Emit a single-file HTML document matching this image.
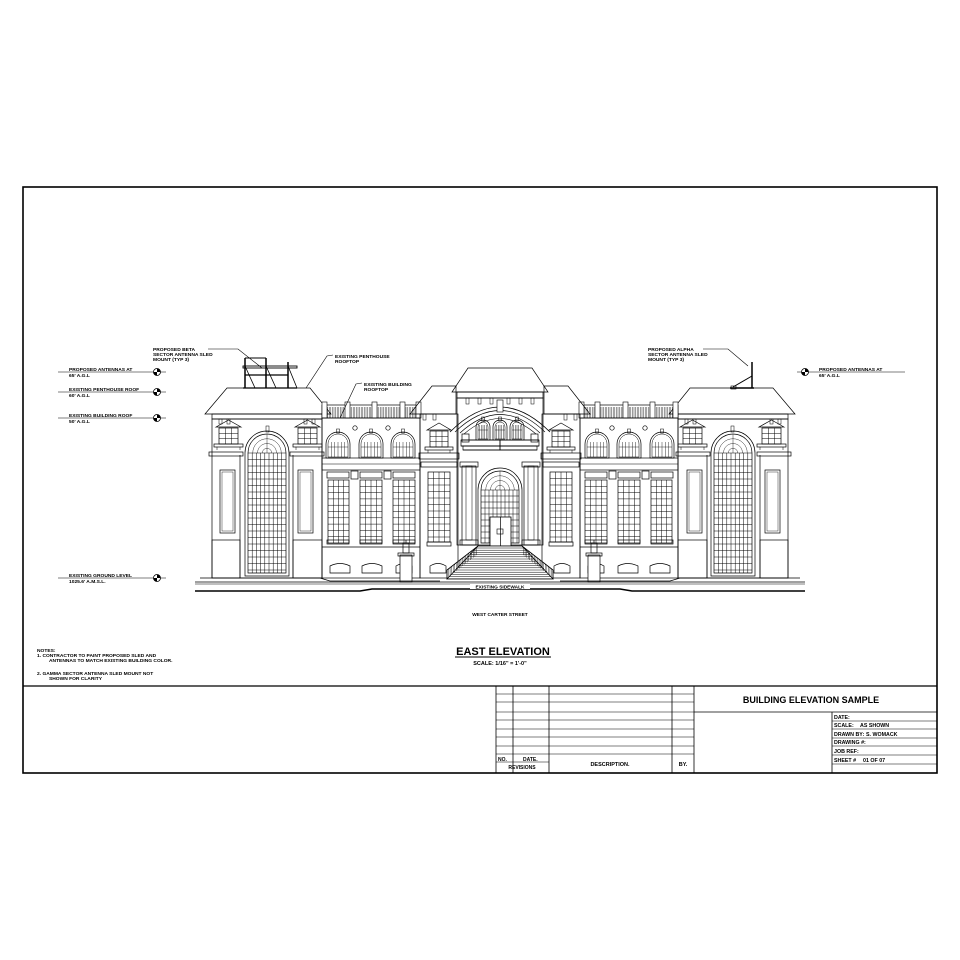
<!DOCTYPE html>
<html><head><meta charset="utf-8"><style>
html,body{margin:0;padding:0;background:#fff;width:960px;height:960px;overflow:hidden}
svg{display:block}
text{font-family:"Liberation Sans",sans-serif;font-weight:bold;fill:#000}
</style></head><body>
<svg id="s" width="960" height="960" viewBox="0 0 960 960" xmlns="http://www.w3.org/2000/svg">
<rect x="23" y="187" width="914" height="586" fill="none" stroke="#000" stroke-width="1.6"/>
<g id="dyn" fill="none" stroke="#000" stroke-width="0.7"></g>
<g id="tx"></g>
</svg>
<script>
var S=[];
function L(x1,y1,x2,y2,w){S.push('<line x1="'+x1+'" y1="'+y1+'" x2="'+x2+'" y2="'+y2+'"'+(w?' stroke-width="'+w+'"':'')+'/>');}
function R(x,y,w,h,sw,f){S.push('<rect x="'+x+'" y="'+y+'" width="'+w+'" height="'+h+'"'+(sw?' stroke-width="'+sw+'"':'')+(f?' fill="'+f+'"':'')+'/>');}
function P(d,sw,f){S.push('<path d="'+d+'"'+(sw?' stroke-width="'+sw+'"':'')+(f?' fill="'+f+'"':'')+'/>');}
function grid(x,y,w,h,dx,dy){R(x,y,w,h);for(var i=x+dx;i<x+w-0.5;i+=dx)L(i,y,i,y+h,0.5);for(var j=y+dy;j<y+h-0.5;j+=dy)L(x,j,x+w,j,0.5);}
function archWin(x1,x2,top,bot,dx,dy){var r=(x2-x1)/2,cy=top+r;
 P('M'+x1+','+bot+'V'+cy+'A'+r+','+r+' 0 0 1 '+x2+','+cy+'V'+bot+'Z');
 var a=x1+3,b=x2-3,r2=(b-a)/2;
 P('M'+a+','+(bot-3)+'V'+cy+'A'+r2+','+r2+' 0 0 1 '+b+','+cy+'V'+(bot-3)+'Z');
 for(var i=a+dx;i<b-0.5;i+=dx)L(i,cy,i,bot-3,0.5);
 for(var j=cy+dy;j<bot-3;j+=dy)L(a,j,b,j,0.5);
 L(a,cy,b,cy,0.5);
 for(var k=1;k<=3;k++){var rr=r2*k/4;P('M'+(x1+r-rr)+','+cy+'A'+rr+','+rr+' 0 0 1 '+(x1+r+rr)+','+cy,0.4);}
 L(x1+r,top+3,x1+r,cy,0.4);}
function smallArch(cx,top,bot,w){var r=w/2,cy=top+r;P('M'+(cx-r)+','+bot+'V'+cy+'A'+r+','+r+' 0 0 1 '+(cx+r)+','+cy+'V'+bot+'Z');
 var r2=r-2;P('M'+(cx-r2)+','+(bot-1)+'V'+cy+'A'+r2+','+r2+' 0 0 1 '+(cx+r2)+','+cy+'V'+(bot-1)+'Z',0.5);
 L(cx-r2,cy+3,cx+r2,cy+3,0.4);for(var i=-2;i<=2;i++)L(cx+i*r2/3,cy-2,cx+i*r2/3,bot-1,0.4);R(cx-1.5,top-3,3,4,0.5);}
function pedWin(x,y,w){P('M'+(x-3)+','+(y+7)+'L'+(x+w/2)+','+y+'L'+(x+w+3)+','+(y+7)+'Z');grid(x,y+8,w,16,w/3,5.3);R(x-5,y+24,w+10,3);L(x-2,y+27,x-2,y+30,0.5);L(x+w+2,y+27,x+w+2,y+30,0.5);}
function segArch(cx,y,w){P('M'+(cx-w/2)+','+(y+10)+'V'+(y+3)+'Q'+cx+','+(y-2)+' '+(cx+w/2)+','+(y+3)+'V'+(y+10)+'Z');}
P('M452,392L468,368L532,368L548,392Z');
R(457,392,86,6);
R(457,398,86,147);
S.push('<g id="half">');
P('M205,414L227,388L310,388L331,414Z');
R(212,414,110,5);
[219,227,304,312].forEach(function(x){R(x,419,3,5,0.5)});
R(212,419,110,159);
L(240,455,240,578);L(293,455,293,578);
R(209,452,34,4);R(290,452,34,4);
pedWin(219,420,19);pedWin(298,420,19);
R(220,470,15,63);R(298,470,15,63);
R(222,472,11,59,0.4);R(300,472,11,59,0.4);
R(212,540,28,38);R(293,540,29,38);
archWin(245,289,431,576,4.2,6.5);
R(266,426,3,6,0.5);
R(322,405,98,13);
for(var x=326;x<418;x+=1.6)L(x,407,x,418,0.4);
[322,345,372,400,416].forEach(function(x){R(x,402,5,16,0.6,'#fff')});
R(322,418,98,160);
[338,371,403].forEach(function(c){smallArch(c,432,458,24)});
[355,388].forEach(function(c){S.push('<circle cx="'+c+'" cy="428" r="2.2"/>')});
R(322,458,98,12);L(322,464,420,464,0.5);
R(327,472,22,6);R(360,472,22,6);R(393,472,22,6);R(351,471,7,8);R(384,471,7,8);
grid(328,480,21,63,5.25,6.3);grid(360,480,22,63,5.5,6.3);grid(393,480,22,63,5.5,6.3);
R(327,540,22,4);R(360,540,22,4);R(393,540,22,4);
L(322,547,420,547);
segArch(340,563,20);segArch(372,563,20);segArch(404,563,16);
R(400,555,12,27,0.7,'#fff');R(398,553,16,3);R(403,543,6,10);L(406,540,406,543);
P('M410,414L432,386L456,386L456,414Z');
R(420,414,38,164);
R(423,414,3,6,0.5);R(433,414,3,6,0.5);
pedWin(430,423,18);
R(419,453,40,6);R(421,462,36,5);
grid(428,472,22,70,5.5,6.5);R(427,542,24,4);
segArch(438,563,16);
[466,478,490].forEach(function(x){R(x,398,3,6,0.5)});
R(461,440,39,6);R(463,446,37,4);
R(462,466,14,79);R(460,462,18,5);R(460,540,18,5);
R(466,466,6,74,0.5);
S.push('</g>');
S.push('<use href="#half" transform="translate(1000,0) scale(-1,1)"/>');
L(461,440,539,440);L(461,446,539,446);L(463,450,537,450);
P('M450,432Q500,382 550,432',0.8);P('M455,432Q500,389 545,432',0.6);P('M460,433Q500,396 540,433',0.6);P('M464,434Q500,403 536,434',0.6);
R(497,400,6,12,0.6,'#fff');
[483,500,517].forEach(function(c){smallArch(c,420,440,14)});
R(462,434,7,8);R(531,434,7,8);
archWin(478,522,468,546,4,6);
R(490,517,21,29,0.8,'#fff');L(500.5,517,500.5,546);R(497,529,6,5,0.6);
P('M447,579L553,579L522,546L478,546Z',0.8,'#fff');
for(var y=548;y<579;y+=2.2){var f=(y-546)/33;L(478-31*f,y,522+31*f,y,0.5);}
P('M447,579L447,570L478,546',0.8);P('M553,579L553,570L522,546',0.8);
for(var q=0;q<1;q+=0.05){var xx=447+31*q,yy=570-24*q;L(xx,yy,xx,yy+8,0.4);xx=553-31*q;L(xx,yy,xx,yy+8,0.4);}
P('M200,578L320,578L330,581L440,581',0.7);P('M560,581L670,581L680,578L800,578',0.7);
L(195,582,805,582,0.8);L(195,584,805,584,0.6);
P('M195,591L360,591L372,589L620,589L632,591L805,591',1.4);
R(470,584,60,5,0,'#fff');
S[S.length-1]=S[S.length-1].replace('<rect','<rect stroke="none"');
R(243,366,54,2,0.9);L(245,358,245,388,1.5);L(266,358,266,388,1.5);L(288,362,288,388,1.5);L(245,375,288,375,1.2);L(243,388,297,388,1.2);
L(245,366,255,388,0.8);L(266,366,276,388,0.8);L(288,366,297,388,0.8);L(245,358,266,358,1);
L(752,362,752,388,1.5);L(730,388,754,388,1.4);L(733,387,752,376,1);R(731,386,5,3,0.6);
P('M208,349L238,349L262,368',0.6);P('M333,355L327,356L306,388',0.6);P('M362,383L356,384L340,418',0.6);P('M703,349L728,349L748,366',0.6);
function lev(x1,x2,y,cx){L(x1,y,x2,y,0.6);S.push('<circle cx="'+cx+'" cy="'+y+'" r="3.5" fill="#fff" stroke-width="0.8"/>');S.push('<path d="M'+cx+','+(y-3.5)+'A3.5,3.5 0 0 1 '+(cx+3.5)+','+y+'L'+cx+','+y+'Z" fill="#000" stroke="none"/>');S.push('<path d="M'+cx+','+(y+3.5)+'A3.5,3.5 0 0 1 '+(cx-3.5)+','+y+'L'+cx+','+y+'Z" fill="#000" stroke="none"/>');}
lev(58,166,372,157);lev(58,166,392,157);lev(58,166,418,157);lev(58,166,578,157);lev(797,905,372,805);
L(23,686,937,686,1.2);
[496,513,549,672,694].forEach(function(x){L(x,686,x,773,0.8)});
L(832,712,832,773,0.8);
[694,702,712,720,729,737,746,754].forEach(function(y){L(496,y,694,y,0.6)});
L(496,762,549,762,0.6);
L(694,712,937,712,0.8);
[721,729,738,746,755,764].forEach(function(y){L(832,y,937,y,0.6)});
L(455,657,551,657,0.9);
document.getElementById('dyn').innerHTML=S.join('');
var T=[];
function t(x,y,s,sz,a){T.push('<text x="'+x+'" y="'+y+'" font-size="'+(sz||4.9)+'"'+(a?' text-anchor="'+a+'"':'')+'>'+s+'</text>');}
t(153,351,'PROPOSED BETA');t(153,356,'SECTOR ANTENNA SLED');t(153,361,'MOUNT (TYP 3)');
t(335,358,'EXISTING PENTHOUSE');t(335,363,'ROOFTOP');
t(364,386,'EXISTING BUILDING');t(364,391,'ROOFTOP');
t(648,351,'PROPOSED ALPHA');t(648,356,'SECTOR ANTENNA SLED');t(648,361,'MOUNT (TYP 3)');
t(69,371,'PROPOSED ANTENNAS AT');t(69,377,'65\' A.G.L');
t(69,391,'EXISTING PENTHOUSE ROOF');t(69,397,'60\' A.G.L');
t(69,417,'EXISTING BUILDING ROOF');t(69,423,'50\' A.G.L');
t(69,577,'EXISTING GROUND LEVEL');t(69,583,'1025.6\' A.M.S.L.');
t(819,371,'PROPOSED ANTENNAS AT');t(819,377,'65\' A.G.L');
t(500,588.5,'EXISTING SIDEWALK',4.8,'middle');
t(500,616,'WEST CARTER STREET',4.8,'middle');
T.push('<text x="503" y="655" font-size="11" text-anchor="middle">EAST ELEVATION</text>');
t(500,665,'SCALE: 1/16" = 1\'-0"',5.5,'middle');
t(37,652,'NOTES:');t(37,657,'1. CONTRACTOR TO PAINT PROPOSED SLED AND');t(49,662,'ANTENNAS TO MATCH EXISTING BUILDING COLOR.');
t(37,675,'2. GAMMA SECTOR ANTENNA SLED MOUNT NOT');t(49,680,'SHOWN FOR CLARITY');
t(498,761,'NO.',5);t(523,761,'DATE.',5);t(522,769,'REVISIONS',5,'middle');t(610,766,'DESCRIPTION.',5.5,'middle');t(683,766,'BY.',5.5,'middle');
T.push('<text x="811" y="703" font-size="9" text-anchor="middle">BUILDING ELEVATION SAMPLE</text>');
t(834,719,'DATE:',5.3);t(834,727,'SCALE:',5.3);t(860,727,'AS SHOWN',5.3);t(834,736,'DRAWN BY:',5.3);t(866,736,'S. WOMACK',5.3);t(834,744,'DRAWING #:',5.3);t(834,753,'JOB REF:',5.3);t(834,762,'SHEET #',5.3);t(863,762,'01 OF 07',5.3);
document.getElementById('tx').innerHTML=T.join('');
</script>
</body></html>
